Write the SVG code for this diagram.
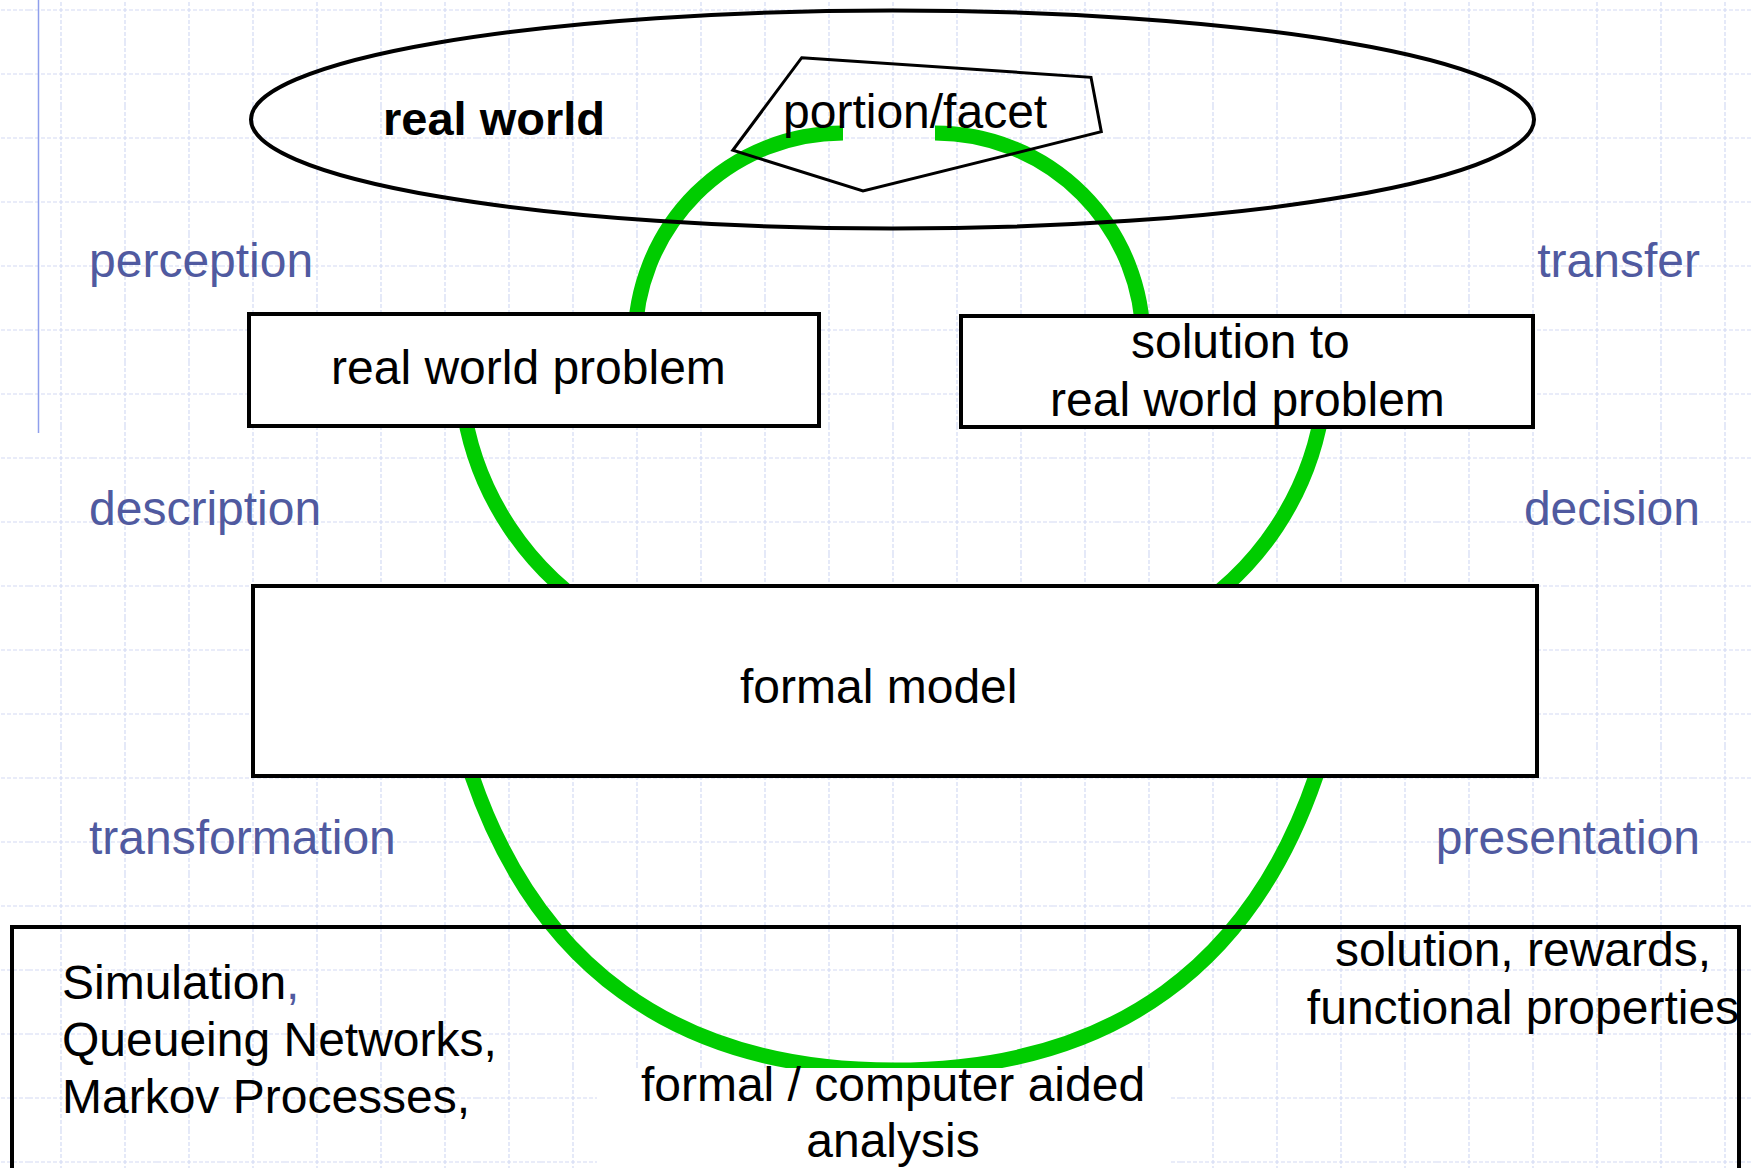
<svg xmlns="http://www.w3.org/2000/svg" width="1752" height="1168" viewBox="0 0 1752 1168">
<defs>
<style>
text{font-family:"Liberation Sans",Arial,sans-serif;font-size:48px;fill:#000}
.lbl{fill:#505aa0}
.bold{font-weight:bold;font-size:47px}
.mid{text-anchor:middle}
.end{text-anchor:end}
.box{fill:#fff;stroke:#000;stroke-width:4}
.open{fill:none;stroke:#000;stroke-width:4}
.arc{fill:none;stroke:#00cc00;stroke-width:15}
.gl{stroke:#d3daf4;stroke-width:1.2;stroke-dasharray:4 2;fill:none}
</style>
<pattern id="grid" x="29" y="-22" width="64" height="64" patternUnits="userSpaceOnUse">
<line class="gl" x1="0" y1="32" x2="64" y2="32"/>
<line class="gl" x1="32" y1="0" x2="32" y2="64"/>
</pattern>
</defs>
<rect x="0" y="0" width="1752" height="1168" fill="#fff"/>
<rect x="0" y="0" width="1752" height="1168" fill="url(#grid)"/>
<line x1="38.5" y1="0" x2="38.5" y2="433" stroke="#8f9fec" stroke-width="1.5"/>

<g id="connectors">
<path id="perception-arc" class="arc" d="M843,133 A208,208 0 0 0 635,341"/>
<path id="transfer-arc" class="arc" d="M935,133 A208,208 0 0 1 1143,341"/>
<path id="description-arc" class="arc" d="M462.3,400 A297,297 0 0 0 608,620"/>
<path id="decision-arc" class="arc" d="M1323.7,400 A297,297 0 0 1 1178,620"/>
<path id="analysis-arc" class="arc" d="M462,746 L472,776 C535,960 670,1070 894,1070 C1118,1070 1253,960 1316,776 L1326,746"/>
</g>

<g id="real-world">
<ellipse class="open" cx="892.5" cy="119.5" rx="641.5" ry="109"/>
<text class="bold" x="383" y="135">real world</text>
</g>
<g id="portion-facet">
<polygon points="801.7,57.7 1091,77.3 1101.3,131.7 863,191 732.8,150.3" fill="none" stroke="#000" stroke-width="3"/>
<text x="783" y="128">portion/facet</text>
</g>
<g id="real-world-problem">
<rect class="box" x="249" y="314" width="570" height="112"/>
<text x="331" y="384">real world problem</text>
</g>
<g id="solution-box">
<rect class="box" x="961" y="316" width="572" height="111"/>
<text x="1131" y="358">solution to</text>
<text x="1050" y="416">real world problem</text>
</g>
<g id="formal-model">
<rect class="box" x="253" y="586" width="1284" height="190"/>
<text x="740" y="703">formal model</text>
</g>
<g id="analysis-box">
<rect class="open" x="12" y="927" width="1727" height="300"/>
<rect x="597" y="1068" width="574" height="100" fill="#fff"/>
<text x="62" y="999">Simulation<tspan class="lbl">,</tspan></text>
<text x="62" y="1056">Queueing Networks,</text>
<text x="62" y="1113">Markov Processes,</text>
<text class="mid" x="893" y="1101">formal / computer aided</text>
<text class="mid" x="893" y="1157">analysis</text>
<text class="mid" x="1523" y="966">solution, rewards,</text>
<text class="mid" x="1523" y="1024">functional properties</text>
</g>
<g id="labels">
<text class="lbl" x="89" y="277">perception</text>
<text class="lbl end" x="1700" y="277">transfer</text>
<text class="lbl" x="89" y="525">description</text>
<text class="lbl end" x="1700" y="525">decision</text>
<text class="lbl" x="89" y="854">transformation</text>
<text class="lbl end" x="1700" y="854">presentation</text>
</g>
</svg>
